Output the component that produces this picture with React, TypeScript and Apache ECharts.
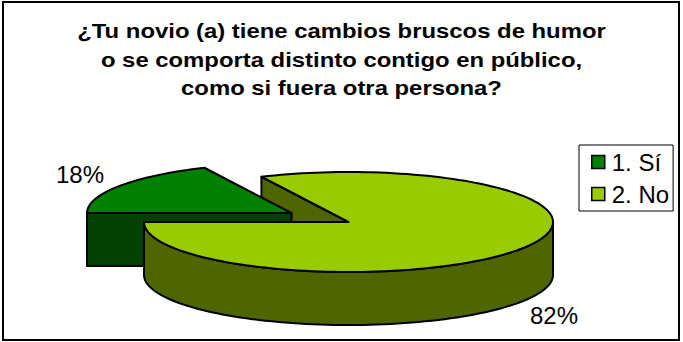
import React, { useEffect, useRef } from "react";
import * as echarts from "echarts";

const titleLines = [
  "¿Tu novio (a) tiene cambios bruscos de humor",
  "o se comporta distinto contigo en público,",
  "como si fuera otra persona?",
];
const categories = ["1. Sí", "2. No"];
const values = [18, 82];
const topColors = ["#008000", "#99CC00"];
const wallColors = ["#004000", "#4D6600"];

const FONT = '"Liberation Sans", Arial, sans-serif';
const RX = 204.5;
const RY = 50;
const DEPTH = 53;
const CENTER = { x: 348.5, y: 222 };
const EXPLODE = [{ dx: -57, dy: -9 }, { dx: 0, dy: 0 }];
const LABEL_POS = [{ x: 80, y: 174 }, { x: 554, y: 315 }];
const START_DEG = 180; // first slice starts at the west point, runs clockwise
const STROKE = 2;
const TITLE_Y = [31, 59.5, 88];
const TITLE_SCALE_X = 1.137;

const total = values.reduce((a, b) => a + b, 0);

function renderSlice(index: number) {
  return (_params: any, api: any) => {
    const v = api.value(0);
    const before = values.slice(0, index).reduce((a, b) => a + b, 0);
    const a0 = START_DEG + (before / total) * 360;
    const a1 = a0 + (v / total) * 360;
    const cx = CENTER.x + EXPLODE[index].dx;
    const cy = CENTER.y + EXPLODE[index].dy;
    const pt = (deg: number, down = 0): number[] => {
      const r = (deg * Math.PI) / 180;
      // deg 180 = west, 270 = north, 360 = east, 450 = south
      return [cx + RX * Math.cos(r), cy + RY * Math.sin(r) + down];
    };
    const arc = (from: number, to: number, down = 0) => {
      const n = Math.max(2, Math.ceil(Math.abs(to - from) / 2));
      const out: number[][] = [];
      for (let i = 0; i <= n; i++) out.push(pt(from + ((to - from) * i) / n, down));
      return out;
    };
    const children: any[] = [];
    const top = topColors[index];
    const wall = wallColors[index];
    const face = (pts: number[][], fill: string, z2: number) => ({
      type: "polygon",
      z2,
      shape: { points: pts },
      style: { fill, stroke: "#000", lineWidth: STROKE, lineJoin: "round" },
    });
    // stacking: back wall of the large slice, then the exploded slice, then the rest
    const base = index === 0 ? 10 : 20;
    const m0 = ((a0 % 360) + 360) % 360;
    const m1 = ((a1 % 360) + 360) % 360;
    // radial walls, only those that face the viewer
    if (m0 >= 180) {
      const z = index === 0 ? base : 1;
      children.push(face([pt(a0), [cx, cy], [cx, cy + DEPTH], pt(a0, DEPTH)], wall, z));
    }
    if (m1 <= 180) children.push(face([pt(a1), [cx, cy], [cx, cy + DEPTH], pt(a1, DEPTH)], wall, base));
    // outer wall: the front half of the rim
    const f0 = Math.max(a0, 360);
    const f1 = Math.min(a1, 540);
    if (f1 > f0) children.push(face([...arc(f0, f1), ...arc(f1, f0, DEPTH)], wall, base + 1));
    // top face
    children.push(face([[cx, cy], ...arc(a0, a1)], top, base + 2));
    // data label
    children.push({
      type: "text",
      z2: 30,
      style: {
        x: LABEL_POS[index].x,
        y: LABEL_POS[index].y,
        text: `${v}%`,
        fill: "#000",
        font: `24px ${FONT}`,
        align: "center",
        verticalAlign: "middle",
      },
    });
    return { type: "group", children };
  };
}

export default function App() {
  const ref = useRef<HTMLDivElement>(null);
  useEffect(() => {
    const chart = echarts.init(ref.current!, undefined, { renderer: "svg" });
    chart.setOption({
      animation: false,
      backgroundColor: "#fff",
      graphic: [
        {
          type: "rect",
          silent: true,
          z: -1,
          shape: { x: 3, y: 2, width: 676, height: 338 },
          style: { fill: "#fff", stroke: "#000", lineWidth: 2 },
        },
        ...titleLines.map((text, i) => ({
          type: "text",
          silent: true,
          x: 341.5,
          y: TITLE_Y[i],
          scaleX: TITLE_SCALE_X,
          style: {
            text,
            x: 0,
            y: 0,
            fill: "#000",
            font: `bold 21px ${FONT}`,
            align: "center",
            verticalAlign: "middle",
          },
        })),
      ],
      legend: {
        show: true,
        orient: "vertical",
        left: 579,
        top: 145,
        padding: [5, 4, 5, 12],
        itemWidth: 13,
        itemHeight: 13,
        itemGap: 8,
        borderColor: "#000",
        borderWidth: 1,
        backgroundColor: "#fff",
        icon: "rect",
        itemStyle: { borderColor: "#000", borderWidth: 1.5 },
        textStyle: { fontFamily: FONT, fontSize: 24, color: "#000", padding: [0, 0, 0, 2] },
        data: categories,
      },
      series: categories.map((name, i) => ({
        type: "custom",
        name,
        coordinateSystem: "none",
        silent: true,
        itemStyle: { color: topColors[i] },
        data: [[values[i]]],
        encode: { value: 0 },
        renderItem: renderSlice(i),
      })),
    });
    return () => chart.dispose();
  }, []);
  return (
    <div
      ref={ref}
      style={{ position: "fixed", left: 0, top: 0, width: 683, height: 342 }}
    />
  );
}
